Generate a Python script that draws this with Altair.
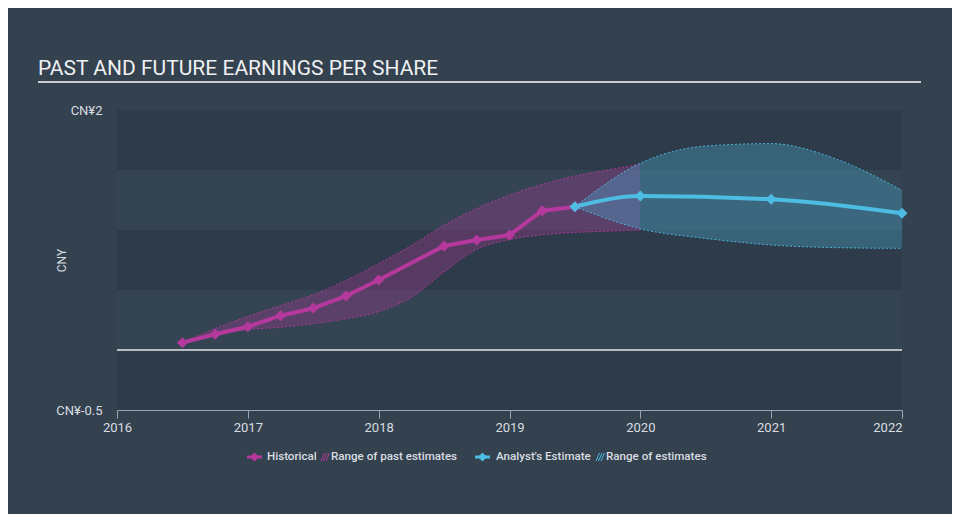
import altair as alt
import pandas as pd

# ---------------- data ----------------
hist_x = [2016.5, 2016.75, 2017.0, 2017.25, 2017.5, 2017.75, 2018.0, 2018.5, 2018.75, 2019.0, 2019.25, 2019.5]
hist_y = [0.061, 0.131, 0.194, 0.286, 0.348, 0.45, 0.583, 0.867, 0.917, 0.958, 1.161, 1.194]

est_x = [2019.5, 2020.0, 2021.0, 2022.0]
est_y = [1.194, 1.283, 1.256, 1.139]

past_rng_x = [2016.5, 2016.75, 2017.0, 2017.25, 2017.5, 2017.75, 2018.0, 2018.25, 2018.5,
              2018.75, 2019.0, 2019.25, 2019.5, 2019.75, 2020.0]
past_hi = [0.061, 0.18, 0.28, 0.37, 0.46, 0.58, 0.72, 0.87, 1.04, 1.18, 1.29, 1.38, 1.45, 1.50, 1.55]
past_lo = [0.061, 0.13, 0.17, 0.19, 0.22, 0.26, 0.32, 0.44, 0.65, 0.84, 0.92, 0.96, 0.98, 0.99, 1.0]

fut_rng_x = [2019.5, 2020.0, 2020.5, 2021.0, 2021.5, 2022.0]
fut_hi = [1.194, 1.556, 1.70, 1.72, 1.59, 1.33]
fut_lo = [1.194, 1.01, 0.93, 0.875, 0.853, 0.847]

x_ticks = [2016, 2017, 2018, 2019, 2020, 2021, 2022]
y_ticks = [-0.5, 2]
band_hi = [2.0, 1.0, 0.0]
band_lo = [1.5, 0.5, -0.5]

title_text = "PAST AND FUTURE EARNINGS PER SHARE"

# ---------------- styles ----------------
PINK = "#b5399d"
BLUE = "#4dbde4"
TXT = "#d9dde1"
FONT = "Roboto"
W, H = 785, 300

hist_df = pd.DataFrame({"x": hist_x, "y": hist_y})
est_df = pd.DataFrame({"x": est_x, "y": est_y})
past_df = pd.DataFrame({"x": past_rng_x, "hi": past_hi, "lo": past_lo})
fut_df = pd.DataFrame({"x": fut_rng_x, "hi": fut_hi, "lo": fut_lo})
band_df = pd.DataFrame({"bhi": band_hi, "blo": band_lo})
one = pd.DataFrame({"a": [0]})

xscale = alt.Scale(domain=[2016, 2022], nice=False, zero=False)
yscale = alt.Scale(domain=[-0.5, 2], nice=False, zero=False)

xaxis = alt.Axis(values=x_ticks, format="d", grid=False, labelFlush=False,
                 labelAlign={"condition": {"test": "datum.value == 2022", "value": "right"}, "value": "center"},
                 domainColor="#9aa6b2", tickColor="#9aa6b2", tickSize=8, labelPadding=3,
                 labelColor=TXT, labelFontSize=13, labelFont=FONT, title=None)
yaxis = alt.Axis(values=y_ticks, labelExpr="'CN¥' + datum.value", grid=False, domain=False, ticks=False,
                 labelPadding=15, labelColor=TXT, labelFontSize=13, labelFont=FONT,
                 title="CNY", titleColor=TXT, titleFontSize=12, titleFont=FONT, titleFontWeight="normal",
                 titleAngle=270, titleX=-52, titleY=150, titleAlign="center", titleBaseline="alphabetic")

X = lambda f="x": alt.X(f"{f}:Q", scale=xscale, axis=xaxis)
Y = lambda f="y": alt.Y(f"{f}:Q", scale=yscale, axis=yaxis)

bands = alt.Chart(band_df).mark_rect(color="#2e3b4a").encode(
    x=alt.value(0), x2=alt.value(W), y=Y("bhi"), y2="blo")

zero = alt.Chart(one).mark_rule(color="#e4e6e8", strokeWidth=1.5).encode(
    y=alt.Y(datum=0, type="quantitative", scale=yscale, axis=yaxis), x=alt.value(0), x2=alt.value(W))

past_area = alt.Chart(past_df).mark_area(color=PINK, opacity=0.3, interpolate="monotone").encode(
    x=X(), y=Y("hi"), y2="lo")
fut_area = alt.Chart(fut_df).mark_area(color=BLUE, opacity=0.3, interpolate="monotone").encode(
    x=X(), y=Y("hi"), y2="lo")

def edge(df, field, color):
    return alt.Chart(df).mark_line(color=color, strokeWidth=1, strokeDash=[2, 2],
                                   interpolate="monotone", opacity=0.9).encode(x=X(), y=Y(field))

hist_line = alt.Chart(hist_df).mark_line(color=PINK, strokeWidth=4).encode(x=X(), y=Y())
hist_pts = alt.Chart(hist_df).mark_point(shape="diamond", filled=True, size=120, color=PINK, opacity=1).encode(x=X(), y=Y())
est_line = alt.Chart(est_df).mark_line(color=BLUE, strokeWidth=4, interpolate="monotone").encode(x=X(), y=Y())
est_pts = alt.Chart(est_df).mark_point(shape="diamond", filled=True, size=120, color=BLUE, opacity=1).encode(x=X(), y=Y())

# title + underline
title = alt.Chart(one).mark_text(text=title_text, align="left", baseline="alphabetic", font=FONT,
                                  fontSize=21, color="#eef0f2").encode(x=alt.value(-79), y=alt.value(-35))
underline = alt.Chart(one).mark_rule(color="#c9ced3", strokeWidth=2).encode(
    x=alt.value(-79), x2=alt.value(804), y=alt.value(-28))

# legend
LY = 347
legend_layers = []
for (x0, color, label, hx, rlabel, rx) in [
    (130, PINK, "Historical", 150, "Range of past estimates", 214),
    (358, BLUE, "Analyst's Estimate", 379, "Range of estimates", 489),
]:
    legend_layers.append(alt.Chart(one).mark_rule(color=color, strokeWidth=3).encode(
        x=alt.value(x0), x2=alt.value(x0 + 15), y=alt.value(LY)))
    legend_layers.append(alt.Chart(one).mark_point(shape="diamond", filled=True, size=80, color=color, opacity=1).encode(
        x=alt.value(x0 + 7.5), y=alt.value(LY)))
    legend_layers.append(alt.Chart(one).mark_text(text=label, align="left", baseline="middle", font=FONT,
                                                  fontSize=11.6, fontWeight=500, color=TXT).encode(
        x=alt.value(hx), y=alt.value(LY)))
    hx2 = rx - 10
    for k in range(3):
        legend_layers.append(alt.Chart(one).mark_rule(color=color, strokeWidth=1).encode(
            x=alt.value(hx2 + 2.5 * k), x2=alt.value(hx2 + 2.5 * k + 3.5),
            y=alt.value(LY + 4), y2=alt.value(LY - 4)))
    legend_layers.append(alt.Chart(one).mark_text(text=rlabel, align="left", baseline="middle", font=FONT,
                                                  fontSize=11.6, fontWeight=500, color=TXT).encode(
        x=alt.value(rx), y=alt.value(LY)))

chart = alt.layer(
    bands, zero, past_area, fut_area,
    edge(past_df, "hi", PINK), edge(past_df, "lo", PINK),
    edge(fut_df, "hi", BLUE), edge(fut_df, "lo", BLUE),
    hist_line, est_line, hist_pts, est_pts,
    title, underline, *legend_layers
).properties(
    width=W, height=H, background="#34414f",
    padding={"left": 109, "top": 102, "right": 50, "bottom": 104},
    autosize=alt.AutoSizeParams(type="none"),
).configure_view(fill="#344453", stroke=None)

chart.save("out.html", embed_options={"renderer": "svg", "actions": False})
